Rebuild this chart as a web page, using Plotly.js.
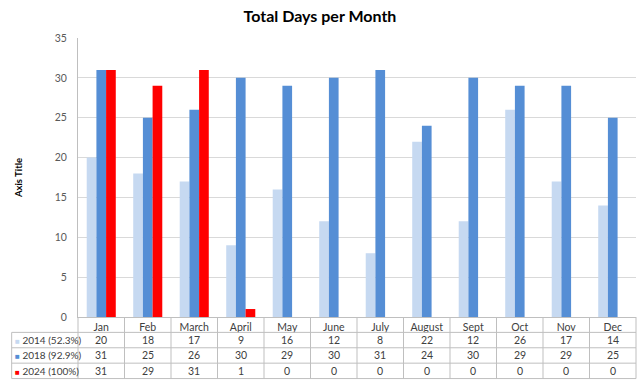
<!DOCTYPE html>
<html>
<head>
<meta charset="utf-8">
<script src="https://cdn.plot.ly/plotly-3.0.1.min.js"></script>
<style>html,body{margin:0;padding:0;background:#fff;}#chart{width:640px;height:380px;}</style>
</head>
<body>
<div id="chart"></div>
<script>
var months = ["Jan","Feb","March","April","May","June","July","August","Sept","Oct","Nov","Dec"];
var seriesNames = ["2014 (52.3%)","2018 (92.9%)","2024 (100%)"];
var v2014 = [20,18,17,9,16,12,8,22,12,26,17,14];
var v2018 = [31,25,26,30,29,30,31,24,30,29,29,25];
var v2024 = [31,29,31,1,0,0,0,0,0,0,0,0];
var colors = ["#c6d9f1","#558ed5","#ff0000"];

var W = 640, Hpx = 380;
var mL = 78.3, mR = 4, mT = 37.5, mB = 63.3;
var plotH = Hpx - mT - mB, plotW = W - mL - mR;
var rowH = 15.4;
function pyPaper(offsetPx){ return -offsetPx / plotH; }
function pxPaper(px){ return (px - mL) / plotW; }

var allSeries = [v2014, v2018, v2024];
var traces = allSeries.map(function(vals, i){
  return {type:"bar", x: months, y: vals, name: seriesNames[i],
    marker:{color: colors[i]}, hoverinfo:"none"};
});

var lineColor = "#bfbfbf";
var shapes = [];
var annotations = [];
var tableLeft = pxPaper(12);
for (var r = 1; r <= 4; r++) {
  shapes.push({type:"line", xref:"paper", yref:"paper", x0: tableLeft, x1: 1,
    y0: pyPaper(r*rowH), y1: pyPaper(r*rowH), line:{color:lineColor, width:1}});
}
for (var c = 1; c < months.length; c++) {
  shapes.push({type:"line", xref:"x", yref:"paper", x0: c-0.5, x1: c-0.5,
    y0: 0, y1: pyPaper(4*rowH), line:{color:lineColor, width:1}});
}
shapes.push({type:"line", xref:"paper", yref:"paper", x0: 0, x1: 0, y0: 0, y1: pyPaper(4*rowH), line:{color:lineColor, width:1}});
shapes.push({type:"line", xref:"paper", yref:"paper", x0: 1, x1: 1, y0: 0, y1: pyPaper(4*rowH), line:{color:lineColor, width:1}});
shapes.push({type:"line", xref:"paper", yref:"paper", x0: tableLeft, x1: tableLeft, y0: pyPaper(rowH), y1: pyPaper(4*rowH), line:{color:lineColor, width:1}});

var cellFont = {family:"Lato, 'Open Sans', sans-serif", size:10.5, color:"#404040"};
var legFont = {family:"Lato, 'Open Sans', sans-serif", size:10, color:"#404040"};
allSeries.forEach(function(vals, r){
  var yc = pyPaper((r+1.5)*rowH);
  vals.forEach(function(v, c){
    annotations.push({xref:"x", yref:"paper", x: months[c], y: yc, text: String(v),
      showarrow:false, font: cellFont, xanchor:"center", yanchor:"middle"});
  });
  annotations.push({xref:"paper", yref:"paper", x: pxPaper(13), y: yc,
    text: '<span style="color:'+colors[r]+';font-size:8px">■</span> ' + seriesNames[r],
    showarrow:false, font: legFont, xanchor:"left", yanchor:"middle"});
});

var layout = {
  width: W, height: Hpx,
  margin: {l: mL, r: mR, t: mT, b: mB, pad: 0},
  paper_bgcolor:"#fff", plot_bgcolor:"#fff",
  showlegend:false,
  barmode:"group", bargap:0.375, bargroupgap:0,
  title:{text:"<b>Total Days per Month</b>", x:0.5, xanchor:"center", y:0.958, yanchor:"middle",
    font:{family:"Lato, 'Open Sans', sans-serif", size:16, color:"#000"}},
  xaxis:{type:"category", showgrid:false, zeroline:false, showline:true, linecolor:lineColor,
    ticks:"", tickfont: cellFont, fixedrange:true},
  yaxis:{range:[0,35], dtick:5, showgrid:true, gridcolor:"#d9d9d9", zeroline:false,
    showline:true, linecolor:lineColor, ticks:"", ticklabelstandoff:8,
    tickfont:{family:"Lato, 'Open Sans', sans-serif", size:10.5, color:"#595959"},
    title:{text:"<b>Axis Title</b>", standoff:30, font:{family:"Lato, 'Open Sans', sans-serif", size:9.5, color:"#000"}},
    fixedrange:true},
  shapes: shapes,
  annotations: annotations,
  font:{family:"Lato, 'Open Sans', sans-serif"}
};
Plotly.newPlot("chart", traces, layout, {displayModeBar:false, staticPlot:true});
</script>
</body>
</html>
